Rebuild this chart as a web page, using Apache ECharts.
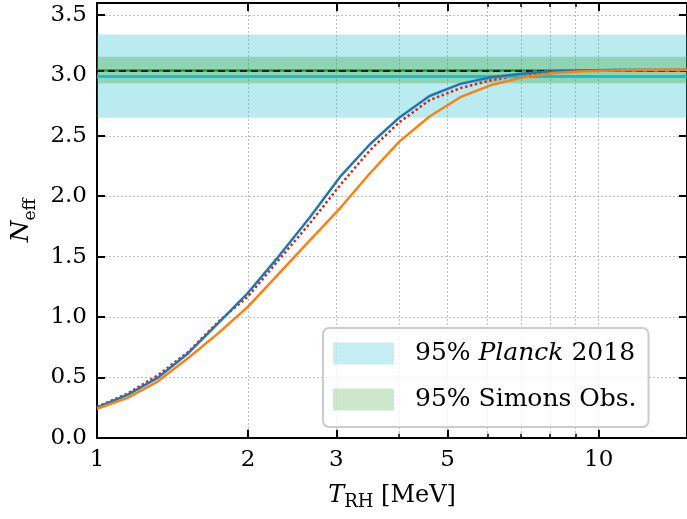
<!DOCTYPE html>
<html>
<head>
<meta charset="utf-8">
<script src="https://cdn.jsdelivr.net/npm/echarts@6/dist/echarts.min.js"></script>
<style>
html,body{margin:0;padding:0;background:#fff;}
#chart{width:687px;height:519px;}
</style>
</head>
<body>
<div id="chart"></div>
<script>
// ---- data ----
const T = [1.0, 1.15, 1.32, 1.52, 1.75, 2.0, 2.3, 2.65, 3.05, 3.5, 4.0, 4.6, 5.3, 6.1, 7.0, 8.1, 9.3, 10.7, 12.3, 15.0];
const nBlue   = [0.25, 0.355, 0.495, 0.70, 0.955, 1.20, 1.50, 1.82, 2.16, 2.43, 2.65, 2.83, 2.93, 2.985, 3.015, 3.035, 3.042, 3.045, 3.046, 3.046];
const nRed    = [0.255, 0.365, 0.515, 0.71, 0.965, 1.17, 1.47, 1.77, 2.09, 2.38, 2.61, 2.795, 2.895, 2.96, 3.005, 3.03, 3.04, 3.044, 3.046, 3.046];
const nOrange = [0.24, 0.33, 0.465, 0.66, 0.87, 1.085, 1.355, 1.63, 1.90, 2.19, 2.45, 2.66, 2.82, 2.92, 2.98, 3.02, 3.035, 3.042, 3.045, 3.047];
const planckBand = [2.65, 3.34];
const planckCenter = 2.99;
const soBand = [2.935, 3.155];
const soCenter = 3.045;
const xMajorTicks = [1, 2, 3, 5, 10];
const xMinorTicks = [4, 6, 7, 8, 9];
const yTicks = [0, 0.5, 1.0, 1.5, 2.0, 2.5, 3.0, 3.5];
const xMin = 1, xMax = 15, yMin = 0, yMax = 3.6;

const FONT = 'DejaVu Serif';
const zip = (xs, ys) => xs.map((x, i) => [x, ys[i]]);

const chart = echarts.init(document.getElementById('chart'), null, {renderer: 'canvas'});

const gridLine = {show: true, lineStyle: {color: '#bdbdbd', width: 1, type: [2, 2]}};

function xAxisDef(position, ticks, major, labels) {
  return {
    type: 'log', logBase: 10, min: xMin, max: xMax, position: position,
    axisLine: {show: major, lineStyle: {color: '#000', width: 2}},
    axisTick: {show: true, inside: true, length: major ? 8 : 4, customValues: ticks,
               lineStyle: {color: '#000', width: major ? 2 : 1.5}},
    axisLabel: labels ? {show: true, customValues: ticks, margin: 11, fontFamily: FONT, fontSize: 23, color: '#000',
               formatter: v => String(Math.round(v))} : {show: false},
    splitLine: position === 'bottom' ? gridLine : {show: false},
    minorTick: {show: false}, minorSplitLine: {show: false}
  };
}

const option = {
  animation: false,
  backgroundColor: '#fff',
  grid: {left: 97, top: 3, width: 594, height: 434.7, containLabel: false},
  xAxis: [
    Object.assign(xAxisDef('bottom', xMajorTicks, true, true), {
      name: '{i|T}{s|RH}{n| [MeV]}', nameLocation: 'middle', nameGap: 46,
      nameTextStyle: {fontFamily: FONT, fontSize: 24, color: '#000',
        rich: {
          i: {fontFamily: FONT, fontSize: 24, fontStyle: 'italic', verticalAlign: 'bottom', padding: [0, 0, 4, 0]},
          s: {fontFamily: FONT, fontSize: 18, verticalAlign: 'bottom', padding: [0, 0, 0, 0]},
          n: {fontFamily: FONT, fontSize: 24, verticalAlign: 'bottom', padding: [0, 0, 4, 0]}
        }}
    }),
    xAxisDef('bottom', xMinorTicks, false, false),
    xAxisDef('top', xMajorTicks, true, false),
    xAxisDef('top', xMinorTicks, false, false)
  ],
  yAxis: [
    {
      type: 'value', min: yMin, max: yMax, position: 'left',
      axisLine: {show: true, lineStyle: {color: '#000', width: 2}},
      axisTick: {show: true, inside: true, length: 8, customValues: yTicks, lineStyle: {color: '#000', width: 2}},
      axisLabel: {show: true, customValues: yTicks, margin: 10, fontFamily: FONT, fontSize: 23, color: '#000',
                  formatter: v => Number(v).toFixed(1)},
      splitLine: gridLine,
      name: '{i|N}{s|eff}', nameLocation: 'middle', nameGap: 58, nameRotate: 90,
      nameTextStyle: {fontFamily: FONT, fontSize: 24, color: '#000',
        rich: {
          i: {fontFamily: FONT, fontSize: 25, fontStyle: 'italic', verticalAlign: 'bottom', padding: [0, 0, 5, 0]},
          s: {fontFamily: FONT, fontSize: 17, verticalAlign: 'bottom'}
        }}
    },
    {
      type: 'value', min: yMin, max: yMax, position: 'right',
      axisLine: {show: true, lineStyle: {color: '#000', width: 2}},
      axisTick: {show: true, inside: true, length: 8, customValues: yTicks, lineStyle: {color: '#000', width: 2}},
      axisLabel: {show: false},
      splitLine: {show: false}
    }
  ],
  legend: {
    orient: 'vertical', left: 323, top: 328,
    padding: [13, 12, 15, 10], itemGap: 21, itemWidth: 61, itemHeight: 22,
    icon: 'rect',
    backgroundColor: 'rgba(255,255,255,0.8)', borderColor: '#cccccc', borderWidth: 2, borderRadius: 6,
    textStyle: {fontFamily: FONT, fontSize: 25, color: '#000', padding: [0, 0, 0, 16],
      rich: {i: {fontFamily: FONT, fontSize: 25, fontStyle: 'italic', color: '#000'}}},
    formatter: n => n === 'Planck' ? '95% {i|Planck} 2018' : '95% Simons Obs.',
    data: ['Planck', 'SO']
  },
  series: [
    {
      name: 'Planck', type: 'scatter', data: [], z: 1,
      itemStyle: {color: 'rgba(23,190,207,0.3)'},
      markArea: {silent: true, itemStyle: {color: 'rgba(23,190,207,0.3)'},
        data: [[{yAxis: planckBand[0]}, {yAxis: planckBand[1]}]]},
      markLine: {silent: true, symbol: 'none', label: {show: false},
        lineStyle: {color: '#17becf', width: 3, type: 'solid'},
        data: [{yAxis: planckCenter}]}
    },
    {
      name: 'SO', type: 'scatter', data: [], z: 2,
      itemStyle: {color: 'rgba(44,160,44,0.3)'},
      markArea: {silent: true, itemStyle: {color: 'rgba(44,160,44,0.3)'},
        data: [[{yAxis: soBand[0]}, {yAxis: soBand[1]}]]},
      markLine: {silent: true, symbol: 'none', label: {show: false},
        lineStyle: {color: '#2ca02c', width: 2.5, type: 'solid'},
        data: [{yAxis: soCenter}]}
    },
    {
      name: 'ref', type: 'scatter', data: [], z: 3,
      markLine: {silent: true, symbol: 'none', label: {show: false},
        lineStyle: {color: '#000', width: 1.5, type: [7, 4]},
        data: [{yAxis: soCenter}]}
    },
    {
      name: 'red', type: 'line', data: zip(T, nRed), showSymbol: false, z: 4,
      lineStyle: {color: '#d62728', width: 2.5, type: [2.5, 2.5]}
    },
    {
      name: 'blue', type: 'line', data: zip(T, nBlue), showSymbol: false, z: 5,
      lineStyle: {color: '#1f77b4', width: 2.5}
    },
    {
      name: 'orange', type: 'line', data: zip(T, nOrange), showSymbol: false, z: 6,
      lineStyle: {color: '#ff7f0e', width: 2.5}
    }
  ]
};
chart.setOption(option);
</script>
</body>
</html>
